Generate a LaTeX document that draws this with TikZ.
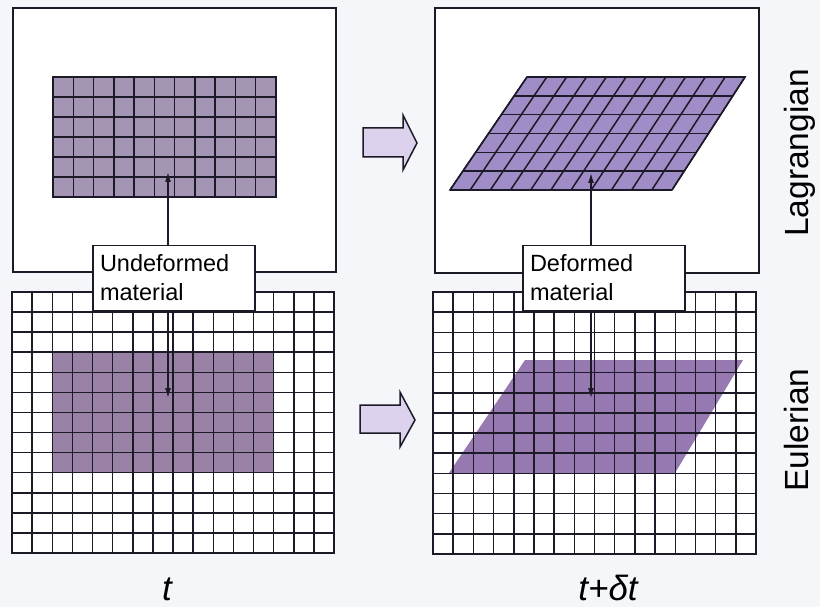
\documentclass[tikz,border=0pt]{standalone}
\usepackage{fontspec}
\setmainfont{Liberation Sans}
\usetikzlibrary{arrows.meta,calc}
\definecolor{bgc}{HTML}{F5F6F9}
\definecolor{ink}{HTML}{1C1A26}
\definecolor{lagL}{HTML}{A595B4}
\definecolor{lagR}{HTML}{A08CC6}
\definecolor{eulL}{HTML}{9A81A6}
\definecolor{eulR}{HTML}{9579B0}
\definecolor{arrowc}{HTML}{DCD2EE}
\begin{document}
\begin{tikzpicture}[x=1pt,y=-1pt,line join=miter,
  frame/.style={draw=ink,line width=1.5pt,fill=white},
  gridln/.style={draw=ink,line width=1.5pt},
  lbl/.style={draw=ink,line width=1.5pt,fill=white,minimum width=162pt,minimum height=65pt,
    text width=148pt,align=left,inner sep=0pt,font=\fontsize{23.5}{29}\selectfont},
  pointer/.style={draw=ink,line width=1.3pt,-{Latex[length=10pt,width=6pt]}},
  blockarrow/.style={draw=ink,line width=1.5pt,fill=arrowc},
  side/.style={rotate=90,anchor=base,font=\fontsize{33.5}{40}\selectfont},
  timelbl/.style={anchor=base,font=\itshape\fontsize{35}{42}\selectfont}]
\useasboundingbox (0,0) rectangle (820,607);
\fill[bgc] (0,0) rectangle (820,607);

% Lagrangian, time t
\draw[frame] (13,8) rectangle (336,272);
\fill[lagL] (53,77) rectangle (276,197);
\foreach \i in {0,...,11} \draw[gridln] ({53+\i*223/11},77) -- ({53+\i*223/11},197);
\foreach \j in {0,...,6} \draw[gridln] (53,{77+\j*20}) -- (276,{77+\j*20});
\draw[gridln] (53,77) rectangle (276,197);

% Lagrangian, time t+dt
\draw[frame] (435,8) rectangle (759,273);
\fill[lagR] (527,77) -- (745,77) -- (672,190) -- (450,190) -- cycle;
\foreach \i in {0,...,11} \draw[gridln] ($(527,77)!\i/11!(745,77)$) -- ($(450,190)!\i/11!(672,190)$);
\foreach \j in {0,...,6} \draw[gridln] ($(527,77)!\j/6!(450,190)$) -- ($(745,77)!\j/6!(672,190)$);
\draw[gridln] (527,77) -- (745,77) -- (672,190) -- (450,190) -- cycle;

% Eulerian, time t
\fill[white] (12,292) rectangle (334,553);
\fill[eulL] (52.25,352.2) rectangle (273.6,472.7);
\foreach \i in {0,...,16} \draw[gridln] ({12+\i*322/16},292) -- ({12+\i*322/16},553);
\foreach \j in {0,...,13} \draw[gridln] (12,{292+\j*261/13}) -- (334,{292+\j*261/13});
\draw[gridln] (12,292) rectangle (334,553);

% Eulerian, time t+dt
\fill[white] (433,292) rectangle (756,554);
\fill[eulR] (525,360) -- (743,360) -- (675,473) -- (449,473) -- cycle;
\foreach \i in {0,...,16} \draw[gridln] ({433+\i*323/16},292) -- ({433+\i*323/16},554);
\foreach \j in {0,...,13} \draw[gridln] (433,{292+\j*262/13}) -- (756,{292+\j*262/13});
\draw[gridln] (433,292) rectangle (756,554);

% labels and pointers
\node[lbl] (und) at (174,278) {Undeformed\\material};
\node[lbl] (def) at (604,278) {Deformed\\material};
\coordinate (undup) at (168,172);
\coordinate (unddn) at (168,398);
\coordinate (defup) at (591,173);
\coordinate (defdn) at (591,398);
\draw[pointer] (und.north -| undup) -- (undup);
\draw[pointer] (und.south -| unddn) -- (unddn);
\draw[pointer] (def.north -| defup) -- (defup);
\draw[pointer] (def.south -| defdn) -- (defdn);

% block arrows
\draw[blockarrow] (363,128) -- (403,128) -- (403,115) -- (417,143) -- (403,170) -- (403,157) -- (363,157) -- cycle;
\draw[blockarrow] (360,405) -- (400,405) -- (400,392) -- (415,420) -- (400,447) -- (400,433) -- (360,433) -- cycle;

% side and time labels
\node[side] (lag) at (808,153) {Lagrangian};
\node[side] (eul) at (808,430) {Eulerian};
\node[timelbl] (t0) at (167,600) {t};
\node[timelbl] (t1) at (608,600) {t+δt};
\end{tikzpicture}
\end{document}
